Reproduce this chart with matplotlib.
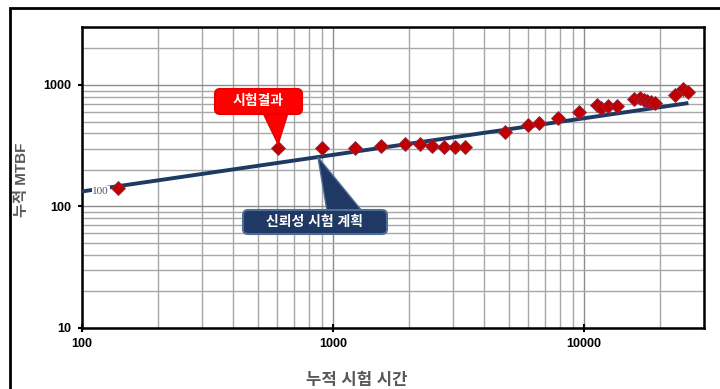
import numpy as np
import matplotlib
matplotlib.use('Agg')
import matplotlib.pyplot as plt
from matplotlib.patches import FancyBboxPatch, Polygon, Rectangle
from matplotlib.transforms import IdentityTransform
from matplotlib.ticker import FixedLocator, FixedFormatter, LogLocator, NullFormatter

plt.rcParams['font.family'] = ['Liberation Sans', 'Noto Sans CJK KR', 'DejaVu Sans']

# test results (cumulative test time, cumulative MTBF)
test_time = [139, 604, 904, 1224, 1553, 1936, 2221, 2479, 2770, 3064, 3357,
             4845, 5983, 6619, 7874, 9550, 11270, 11690, 12460, 13530,
             15820, 16710, 17340, 17820, 18490, 19180, 23050, 24800, 25960]
test_mtbf = [143, 301, 303, 305, 313, 325, 325, 313, 307, 307, 307,
             409, 467, 485, 534, 598, 683, 646, 670, 670,
             766, 781, 752, 738, 724, 710, 827, 927, 875]

# reliability test plan (growth line)
plan_time = [100, 26000]
plan_mtbf = [133, 710]
plan_label = '100'

x_ticks = [100, 1000, 10000]
y_ticks = [10, 100, 1000]

W, H = 720, 389
fig = plt.figure(figsize=(W / 100, H / 100), dpi=100)
ax = fig.add_axes([82 / W, 1 - 328 / H, 622 / W, 301 / H])

ax.set_xscale('log')
ax.set_yscale('log')
ax.set_xlim(100, 30000)
ax.set_ylim(10, 3000)

ax.grid(which='major', color='#8c8c8c', lw=1.0)
ax.grid(which='minor', color='#a8a8a8', lw=1.0)
ax.set_axisbelow(True)

ax.xaxis.set_major_locator(FixedLocator(x_ticks))
ax.xaxis.set_major_formatter(FixedFormatter([str(v) for v in x_ticks]))
ax.yaxis.set_major_locator(FixedLocator(y_ticks))
ax.yaxis.set_major_formatter(FixedFormatter([str(v) for v in y_ticks]))
ax.xaxis.set_minor_locator(LogLocator(base=10, subs=np.arange(2, 10)))
ax.yaxis.set_minor_locator(LogLocator(base=10, subs=np.arange(2, 10)))
ax.xaxis.set_minor_formatter(NullFormatter())
ax.yaxis.set_minor_formatter(NullFormatter())
ax.tick_params(which='minor', length=0)
ax.tick_params(axis='y', which='major', direction='out', length=3, width=1.5,
               labelsize=9, pad=5)
ax.tick_params(axis='x', which='major', direction='inout', length=6, width=1.5,
               labelsize=9, pad=4)
for lab in ax.get_xticklabels() + ax.get_yticklabels():
    lab.set_fontweight('bold')
for s in ax.spines.values():
    s.set_color('black')
    s.set_linewidth(1.8)

ax.plot(plan_time, plan_mtbf, color='#1F3A62', lw=2.8, solid_capstyle='butt', zorder=3)
ax.plot(test_time, test_mtbf, ls='none', marker='D', ms=7.5, mfc='#C00000',
        mec='#8a2a4a', mew=0.6, zorder=4)
ax.text(plan_time[0] * 1.1, plan_mtbf[0], plan_label, fontsize=8,
        family='Liberation Serif', color='#5b4a7a', va='center', ha='left',
        bbox=dict(fc='white', ec='none', pad=0.5), zorder=3.5)

fig.text(22 / W, 1 - 180 / H, '누적 MTBF', fontsize=11, fontweight='bold',
         color='#595959', ha='center', va='center', rotation=90)
fig.text(357 / W, 1 - 380 / H, '누적 시험 시간', fontsize=12, fontweight='bold',
         color='#595959', ha='center', va='center')

# outer chart frame
fig.add_artist(Rectangle((10 / W, -0.1), 1.2, 1 - 8 / H + 0.1,
                         transform=fig.transFigure, fill=False, ec='black', lw=2))

# callouts in pixel coordinates
fig.canvas.draw()
def px(x, y):
    return (x, H - y)

def callout(x0, y0, x1, y1, base, tip, text, fc, ec):
    box = FancyBboxPatch(px(x0, y1), x1 - x0, y1 - y0,
                         boxstyle='round,pad=0,rounding_size=5',
                         transform=IdentityTransform(), fc=fc, ec=ec, lw=1.5,
                         zorder=10)
    fig.add_artist(box)
    tri = Polygon([base[0], base[1], tip], closed=True,
                  transform=IdentityTransform(), fc=fc, ec=ec, lw=1.0, zorder=9)
    fig.add_artist(tri)
    fig.text((x0 + x1) / 2 / W, 1 - (y0 + y1) / 2 / H, text, color='white',
             fontsize=10, fontweight='bold', ha='center', va='center', zorder=11)

tip1 = ax.transData.transform((test_time[1], test_mtbf[1]))
tip1 = (tip1[0], tip1[1] + 4)
callout(215, 89, 302, 114, [px(263, 113), px(288, 113)], tip1,
        '시험결과', '#FF0000', '#E80000')

t_tip = 870
k = np.log(plan_mtbf[1] / plan_mtbf[0]) / np.log(plan_time[1] / plan_time[0])
m_tip = plan_mtbf[0] * (t_tip / plan_time[0]) ** k
tip2 = ax.transData.transform((t_tip, m_tip))
callout(243, 210, 387, 234, [px(327, 211), px(362, 211)], tip2,
        '신뢰성 시험 계획', '#1F3864', '#4F6E94')

fig.savefig('out.png', dpi=100)
